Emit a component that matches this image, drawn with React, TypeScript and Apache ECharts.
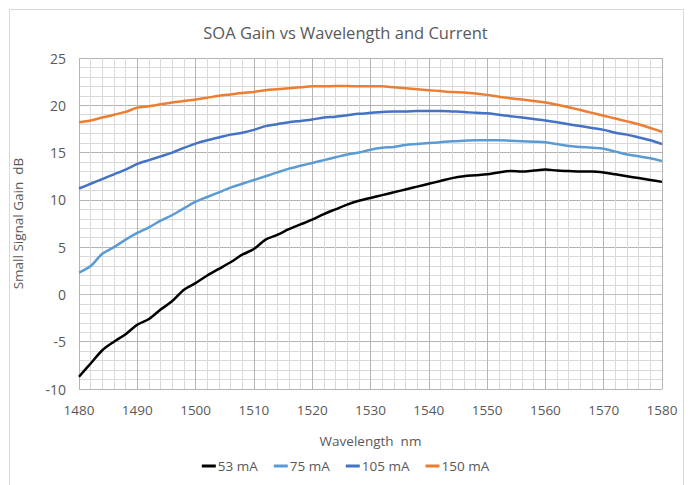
import React, { useEffect, useRef } from "react";
import * as echarts from "echarts";

const wavelengths = [
  1480, 1482, 1484, 1486, 1488, 1490, 1492, 1494, 1496, 1498,
  1500, 1502, 1504, 1506, 1508, 1510, 1512, 1514, 1516, 1518,
  1520, 1522, 1524, 1526, 1528, 1530, 1532, 1534, 1536, 1538,
  1540, 1542, 1544, 1546, 1548, 1550, 1552, 1554, 1556, 1558,
  1560, 1562, 1564, 1566, 1568, 1570, 1572, 1574, 1576, 1578, 1580,
];

const gain53 = [
  -8.7, -7.3, -5.9, -5.0, -4.2, -3.2, -2.6, -1.6, -0.7, 0.5,
  1.2, 2.0, 2.7, 3.4, 4.2, 4.8, 5.8, 6.3, 6.9, 7.4,
  7.9, 8.5, 9.0, 9.5, 9.9, 10.2, 10.5, 10.8, 11.1, 11.4,
  11.7, 12.0, 12.3, 12.5, 12.6, 12.7, 12.9, 13.05, 13.0, 13.1,
  13.2, 13.1, 13.05, 13.0, 13.0, 12.9, 12.7, 12.5, 12.3, 12.1, 11.9,
];

const gain75 = [
  2.3, 3.0, 4.3, 5.0, 5.8, 6.5, 7.1, 7.8, 8.4, 9.1,
  9.8, 10.3, 10.8, 11.3, 11.7, 12.1, 12.5, 12.9, 13.3, 13.6,
  13.9, 14.2, 14.5, 14.8, 15.0, 15.3, 15.5, 15.6, 15.8, 15.9,
  16.0, 16.1, 16.2, 16.25, 16.3, 16.3, 16.3, 16.25, 16.2, 16.15,
  16.1, 15.9, 15.7, 15.6, 15.5, 15.4, 15.1, 14.8, 14.6, 14.4, 14.1,
];

const gain105 = [
  11.2, 11.7, 12.2, 12.7, 13.2, 13.8, 14.2, 14.6, 15.0, 15.5,
  15.95, 16.3, 16.6, 16.9, 17.1, 17.4, 17.8, 18.0, 18.2, 18.35,
  18.5, 18.7, 18.8, 18.95, 19.1, 19.2, 19.3, 19.35, 19.35, 19.4,
  19.4, 19.4, 19.35, 19.3, 19.2, 19.15, 19.0, 18.85, 18.7, 18.55,
  18.4, 18.2, 18.0, 17.8, 17.6, 17.4, 17.1, 16.9, 16.6, 16.3, 15.9,
];

const gain150 = [
  18.2, 18.4, 18.7, 19.0, 19.3, 19.75, 19.9, 20.1, 20.3, 20.45,
  20.6, 20.8, 21.0, 21.15, 21.3, 21.4, 21.6, 21.7, 21.8, 21.9,
  22.0, 22.0, 22.05, 22.05, 22.0, 22.0, 22.0, 21.9, 21.8, 21.7,
  21.6, 21.5, 21.4, 21.35, 21.25, 21.1, 20.9, 20.75, 20.6, 20.45,
  20.3, 20.05, 19.8, 19.5, 19.2, 18.9, 18.6, 18.3, 18.0, 17.6, 17.2,
];

const seriesNames = ["53 mA", "75 mA", "105 mA", "150 mA"];
const seriesColors = ["#000000", "#5B9BD5", "#4472C4", "#ED7D31"];
const seriesValues = [gain53, gain75, gain105, gain150];

const FONT = "'Open Sans', 'Noto Sans', sans-serif";
const TEXT = "#595959";

export default function App() {
  const ref = useRef<HTMLDivElement>(null);

  useEffect(() => {
    document.body.style.margin = "0";
    if (!ref.current) return;
    const chart = echarts.init(ref.current, null, { renderer: "svg" });
    chart.setOption({
      animation: false,
      backgroundColor: "#ffffff",
      title: {
        text: "SOA Gain vs Wavelength and Current",
        left: "center",
        top: 19,
        textStyle: { fontFamily: FONT, fontSize: 16.5, fontWeight: "normal", color: TEXT },
      },
      graphic: [
        {
          type: "rect",
          shape: { x: 9.5, y: 9.5, width: 674, height: 490 },
          style: { fill: "none", stroke: "#d9d9d9", lineWidth: 1 },
          silent: true,
        },
      ],
      legend: {
        bottom: 7,
        left: "center",
        itemWidth: 14,
        itemHeight: 3,
        itemGap: 16,
        icon: "rect",
        textStyle: { fontFamily: FONT, fontSize: 13.5, color: TEXT, padding: [0, 0, 0, -3] },
        data: seriesNames,
      },
      grid: { left: 79, right: 29, top: 58, bottom: 96, containLabel: false },
      xAxis: {
        type: "value",
        min: 1480,
        max: 1580,
        interval: 10,
        name: "Wavelength  nm",
        nameLocation: "middle",
        nameGap: 45,
        nameTextStyle: { fontFamily: FONT, fontSize: 13.5, color: TEXT },
        axisLine: { show: true, lineStyle: { color: "#bfbfbf" } },
        axisTick: { show: false },
        axisLabel: {
          fontFamily: FONT,
          fontSize: 13.5,
          color: TEXT,
          margin: 14,
          formatter: (v: number) => String(v),
        },
        splitLine: { show: true, lineStyle: { color: "#b4b4b4", width: 1 } },
        minorTick: { show: false, splitNumber: 5 },
        minorSplitLine: { show: true, lineStyle: { color: "#d9d9d9", width: 1 } },
      },
      yAxis: {
        type: "value",
        min: -10,
        max: 25,
        interval: 5,
        name: "Small Signal Gain  dB",
        nameLocation: "middle",
        nameGap: 54,
        nameTextStyle: { fontFamily: FONT, fontSize: 13.5, color: TEXT },
        axisLine: { show: false },
        axisTick: { show: false },
        axisLabel: { fontFamily: FONT, fontSize: 14, color: TEXT, margin: 13 },
        splitLine: { show: true, lineStyle: { color: "#b4b4b4", width: 1 } },
        minorTick: { show: false, splitNumber: 5 },
        minorSplitLine: { show: true, lineStyle: { color: "#d9d9d9", width: 1 } },
      },
      series: seriesNames.map((name, i) => ({
        name,
        type: "line",
        data: wavelengths.map((w, j) => [w, seriesValues[i][j]]),
        showSymbol: false,
        symbol: "none",
        smooth: 0.3,
        lineStyle: { color: seriesColors[i], width: 2.5 },
        itemStyle: { color: seriesColors[i] },
      })),
    });
    return () => chart.dispose();
  }, []);

  return <div ref={ref} style={{ width: 691, height: 485 }} />;
}
